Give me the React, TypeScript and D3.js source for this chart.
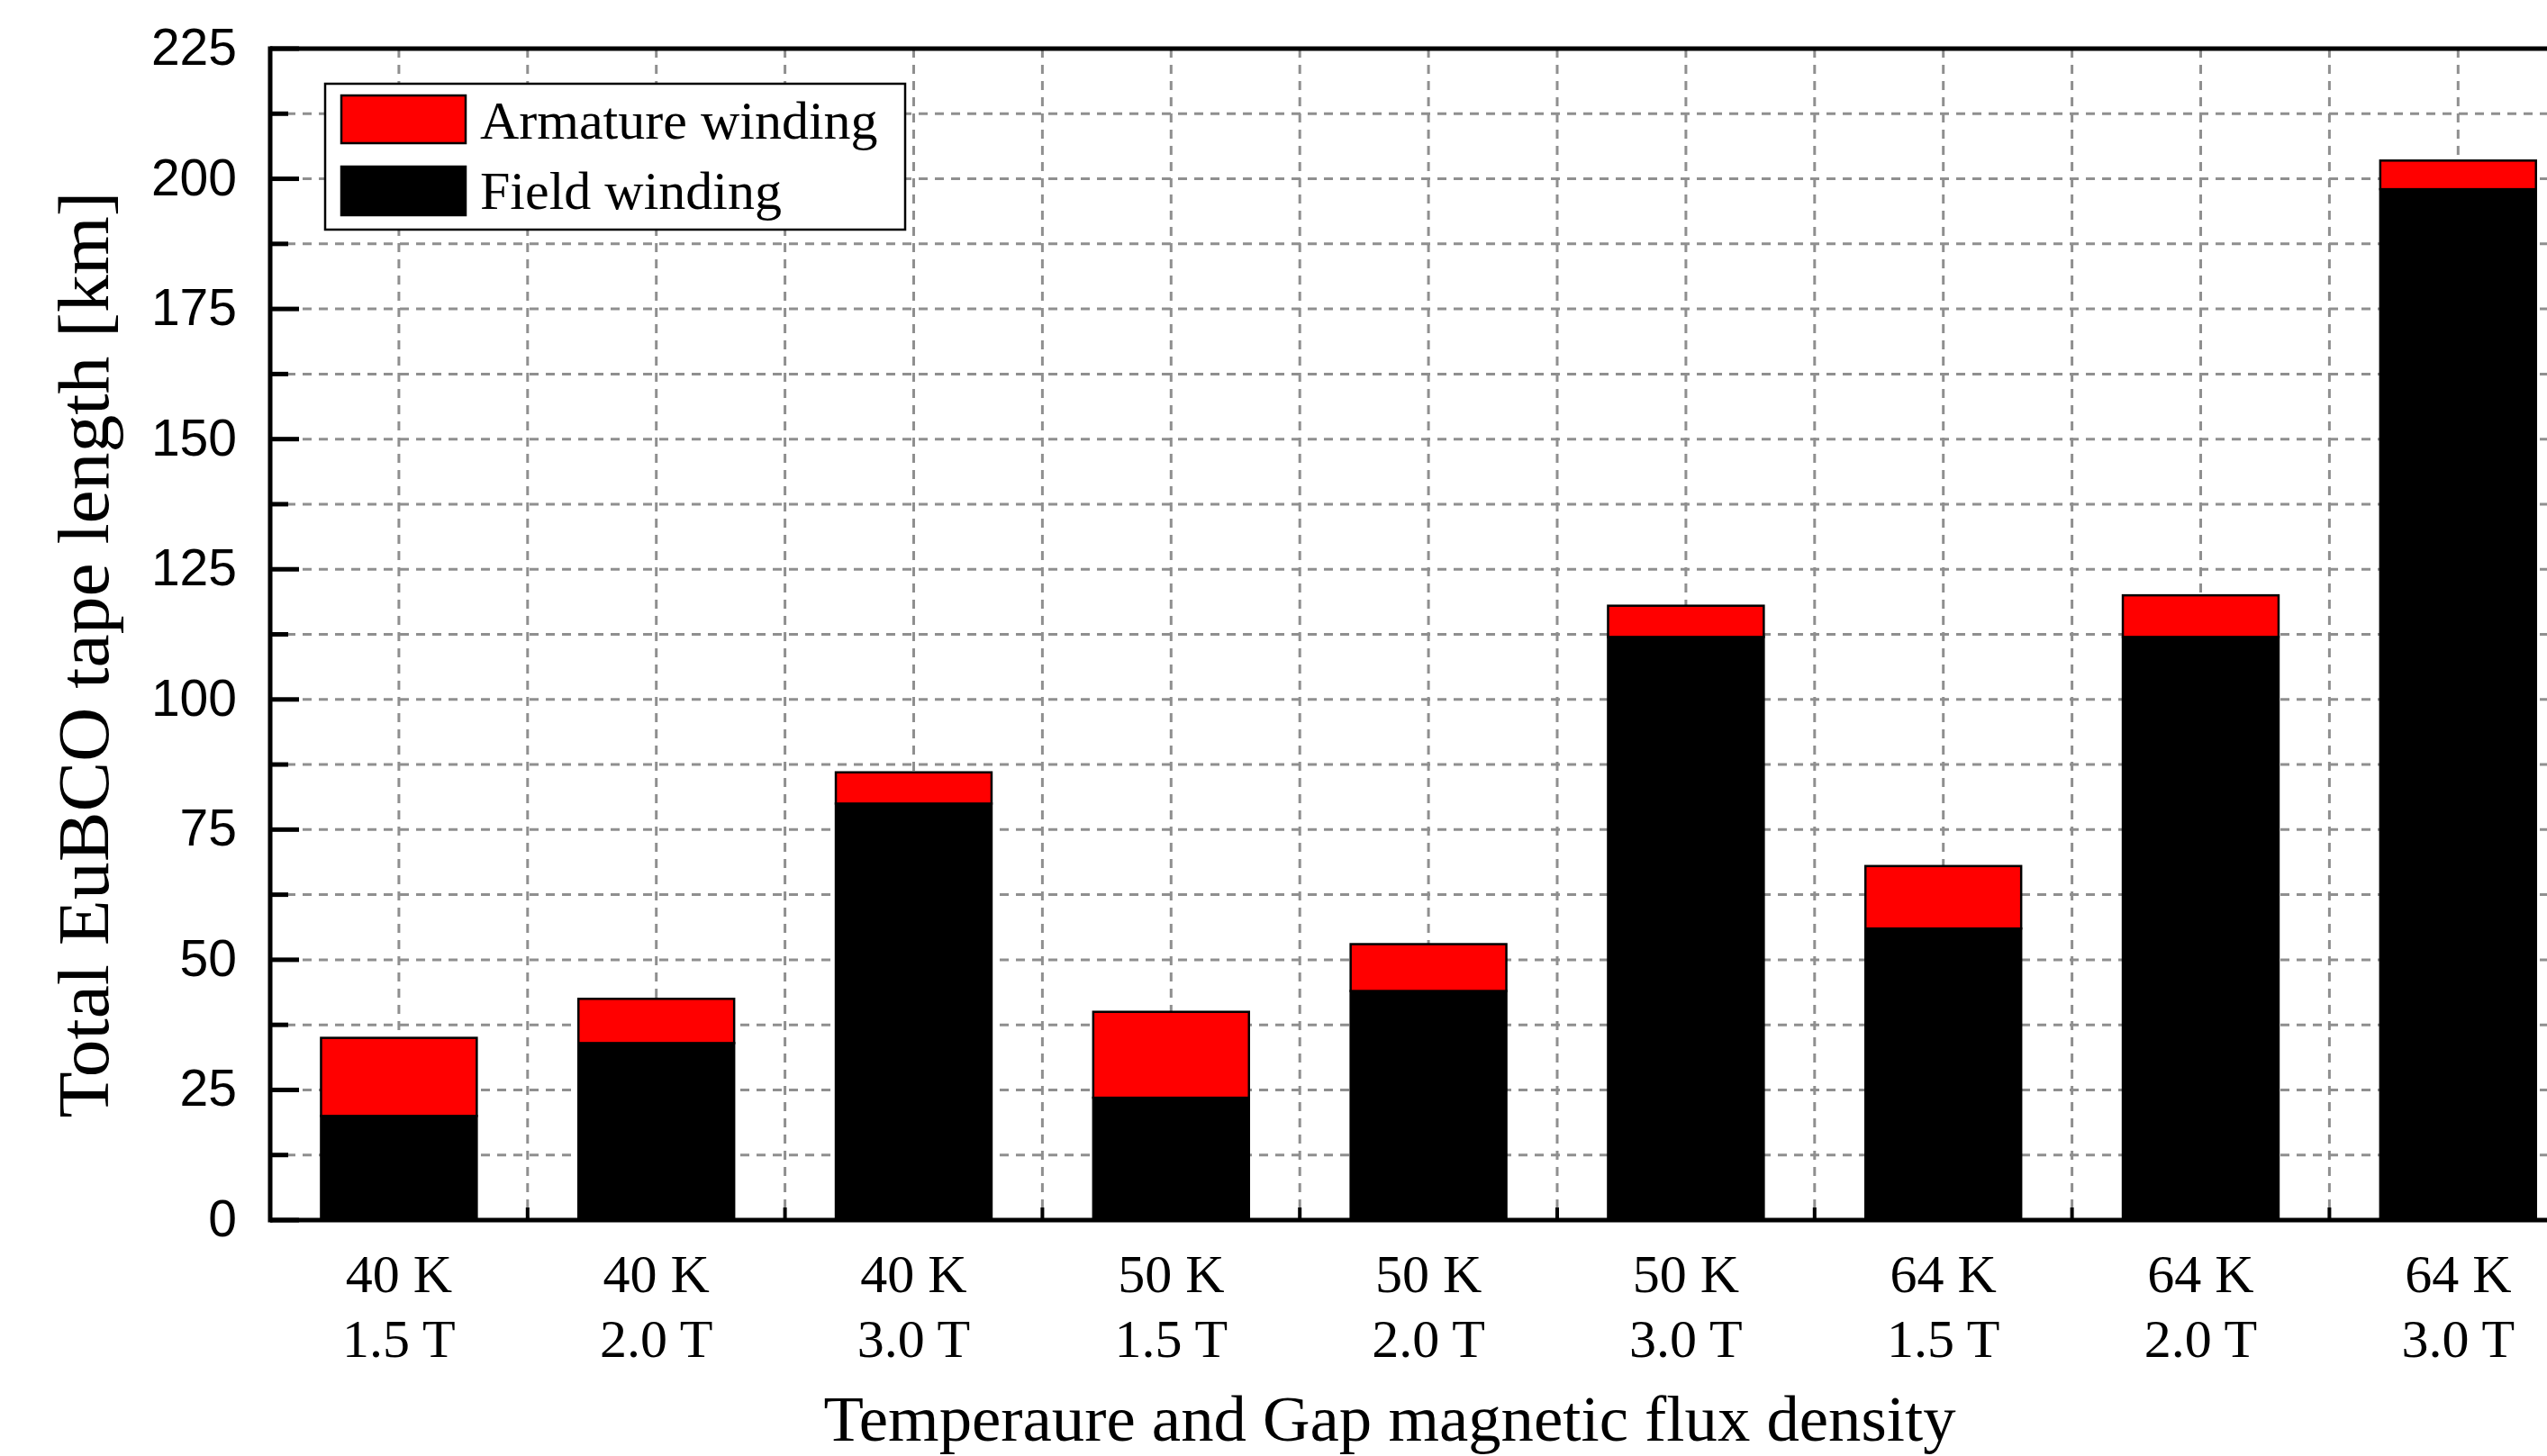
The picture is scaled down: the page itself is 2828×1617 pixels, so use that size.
import React from "react";
import * as d3 from "d3";

// Operating points: temperature and gap flux density
const temperatures = ["40 K", "40 K", "40 K", "50 K", "50 K", "50 K", "64 K", "64 K", "64 K"];
const fluxDensities = ["1.5 T", "2.0 T", "3.0 T", "1.5 T", "2.0 T", "3.0 T", "1.5 T", "2.0 T", "3.0 T"];

// Tape length per winding [km]
const fieldWinding = [20, 34, 80, 23.5, 44, 112, 56, 112, 198];
const armatureWinding = [15, 8.5, 6, 16.5, 9, 6, 12, 8, 5.5];

const yTicks = [0, 25, 50, 75, 100, 125, 150, 175, 200, 225];
const seriesNames = ["Armature winding", "Field winding"];

const W = 2828;
const H = 1617;
const M = { left: 300, top: 54, bottom: 1355 };
const STEP = 285.8;

const SERIF = "'Liberation Serif', 'Times New Roman', serif";
const SANS = "'Liberation Sans', Arial, sans-serif";
const GRID = "#8f8f8f";

export default function App() {
  const categories = temperatures.map((t, i) => `${t}|${fluxDensities[i]}`);
  const x = d3
    .scaleBand<string>()
    .domain(categories)
    .range([M.left, M.left + STEP * categories.length])
    .paddingInner(0.395)
    .paddingOuter(0.1975);
  const y = d3.scaleLinear().domain([0, 225]).range([M.bottom, M.top]);

  const rows = categories.map((c, i) => ({ key: c, field: fieldWinding[i], armature: armatureWinding[i] }));
  const stacked = d3.stack<any>().keys(["field", "armature"])(rows);

  const step = x.step();
  const centers = categories.map((c) => (x(c) as number) + x.bandwidth() / 2);
  const boundaries = d3.range(1, categories.length).map((i) => M.left + i * step);
  const vGrid = [...centers, ...boundaries];
  const hGrid = d3.range(12.5, 225, 12.5);
  const minorTicks = d3.range(12.5, 225, 25);
  const right = M.left + step * categories.length;

  return (
    <svg
      width={W}
      height={H}
      viewBox={`0 0 ${W} ${H}`}
      style={{ position: "absolute", left: 0, top: 0, background: "#fff" }}
    >
      <rect x={0} y={0} width={W} height={H} fill="#fff" />

      {/* grid */}
      <g stroke={GRID} strokeWidth={3} strokeDasharray="10,8" fill="none">
        {hGrid.map((v) => (
          <line key={`h${v}`} x1={M.left} x2={right} y1={y(v)} y2={y(v)} />
        ))}
        {vGrid.map((px, i) => (
          <line key={`v${i}`} x1={px} x2={px} y1={M.top} y2={M.bottom} />
        ))}
      </g>

      {/* stacked bars */}
      {stacked.map((layer) => (
        <g key={layer.key} fill={layer.key === "field" ? "#000" : "#ff0000"} stroke="#000" strokeWidth={2.5}>
          {layer.map((d: any, i: number) => (
            <rect
              key={i}
              x={x(d.data.key) as number}
              width={x.bandwidth()}
              y={y(d[1])}
              height={y(d[0]) - y(d[1])}
            />
          ))}
        </g>
      ))}

      {/* frame */}
      <g stroke="#000" strokeWidth={5} fill="none">
        <line x1={M.left} x2={right} y1={M.top} y2={M.top} />
        <line x1={M.left} x2={right} y1={M.bottom} y2={M.bottom} />
        <line x1={M.left} x2={M.left} y1={M.top - 2.5} y2={M.bottom + 2.5} />
        {yTicks.map((v) => (
          <line key={`t${v}`} x1={M.left} x2={M.left + 32} y1={y(v)} y2={y(v)} />
        ))}
        {minorTicks.map((v) => (
          <line key={`m${v}`} x1={M.left} x2={M.left + 20} y1={y(v)} y2={y(v)} />
        ))}
        {boundaries.map((px, i) => (
          <line key={`b${i}`} x1={px} x2={px} y1={M.bottom} y2={M.bottom - 14} strokeWidth={4} />
        ))}
      </g>

      {/* y tick labels */}
      <g fontFamily={SANS} fontSize={57} textAnchor="end" fill="#000">
        {yTicks.map((v) => (
          <text key={v} x={263} y={y(v) + 18}>
            {v}
          </text>
        ))}
      </g>

      {/* x tick labels */}
      <g fontFamily={SERIF} fontSize={60} textAnchor="middle" fill="#000">
        {categories.map((c, i) => (
          <g key={c}>
            <text x={centers[i]} y={1435}>
              {temperatures[i]}
            </text>
            <text x={centers[i]} y={1507}>
              {fluxDensities[i]}
            </text>
          </g>
        ))}
      </g>

      {/* axis titles */}
      <text
        x={1543}
        y={1600}
        fontFamily={SERIF}
        fontSize={72}
        textAnchor="middle"
        textLength={1257}
        lengthAdjust="spacingAndGlyphs"
      >
        Temperaure and Gap magnetic flux density
      </text>
      <text
        transform={`translate(120, ${727}) rotate(-90)`}
        fontFamily={SERIF}
        fontSize={80}
        textAnchor="middle"
        textLength={1029}
        lengthAdjust="spacingAndGlyphs"
      >
        Total EuBCO tape length [km]
      </text>

      {/* legend */}
      <g>
        <rect x={361} y={93} width={644} height={162} fill="#fff" stroke="#000" strokeWidth={2.5} />
        <rect x={379} y={106} width={138} height={53} fill="#ff0000" stroke="#000" strokeWidth={2.5} />
        <rect x={379} y={185} width={138} height={54} fill="#000" stroke="#000" strokeWidth={2.5} />
        <text x={533} y={154} fontFamily={SERIF} fontSize={60}>
          {seriesNames[0]}
        </text>
        <text x={533} y={232} fontFamily={SERIF} fontSize={60}>
          {seriesNames[1]}
        </text>
      </g>
    </svg>
  );
}
